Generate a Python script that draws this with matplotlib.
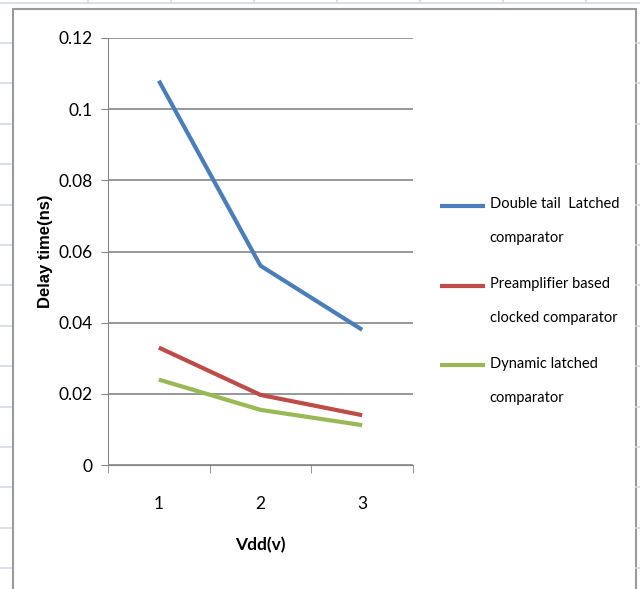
import numpy as np
import matplotlib.pyplot as plt
from matplotlib.patches import Rectangle
from matplotlib.lines import Line2D
from matplotlib.legend_handler import HandlerLine2D

# Delay time vs supply voltage for three comparators
vdd = [1, 2, 3]
double_tail = [0.108, 0.056, 0.038]
preamp = [0.033, 0.0197, 0.014]
dynamic = [0.024, 0.0155, 0.0112]
labels = ['Double tail  Latched\ncomparator',
          'Preamplifier based\nclocked comparator',
          'Dynamic latched\ncomparator']
colors = ['#4A7EBB', '#BE4B48', '#98B954']
yticks = [0, 0.02, 0.04, 0.06, 0.08, 0.1, 0.12]
ytick_labels = ['0', '0.02', '0.04', '0.06', '0.08', '0.1', '0.12']

plt.rcParams['font.family'] = ['Lato', 'DejaVu Sans']

W, H = 640, 589


class TopLine(HandlerLine2D):
    # excel puts the legend line next to the first text line
    def create_artists(self, legend, orig_handle, xdescent, ydescent,
                       width, height, fontsize, trans):
        arts = super().create_artists(legend, orig_handle, xdescent, ydescent,
                                      width, height, fontsize, trans)
        for a in arts:
            a.set_ydata(np.asarray(a.get_ydata()) + 11.3)
        return arts


fig = plt.figure(figsize=(6.4, 5.89), dpi=100)

# faint spreadsheet cell lines behind the chart
cell = '#d3dae6'
fig.lines.append(Line2D([0, 1], [1 - 3/H, 1 - 3/H], transform=fig.transFigure, color=cell, lw=1.2))
for k in range(8):
    x = (88 + 83*k) / W
    fig.lines.append(Line2D([x, x], [1 - 3/H, 1], transform=fig.transFigure, color=cell, lw=1.2))
for k in range(14):
    y = 1 - (43 + 40.4*k) / H
    fig.lines.append(Line2D([0, 11/W], [y, y], transform=fig.transFigure, color=cell, lw=1.2))
    fig.lines.append(Line2D([636/W, 1], [y, y], transform=fig.transFigure, color=cell, lw=1.2))

# chart border
fig.patches.append(Rectangle((13/W, -0.01), 623/W, 1 - 9/H + 0.01,
                             transform=fig.transFigure, fill=False,
                             edgecolor='#9a9a9a', linewidth=1.5))

ax = fig.add_axes([108/W, 124/H, 305/W, 427/H])
for ys, c, lab in zip([double_tail, preamp, dynamic], colors, labels):
    ax.plot(vdd, ys, color=c, linewidth=3, label=lab, solid_capstyle='butt')

ax.set_xlim(0.5, 3.5)
ax.set_ylim(0, 0.12)
ax.set_yticks(yticks)
ax.set_yticklabels(ytick_labels)
ax.set_xticks(vdd)
ax.set_xticks([0.5, 1.5, 2.5, 3.5], minor=True)
ax.tick_params(axis='x', which='major', length=0, pad=22, labelsize=12.5)
ax.tick_params(axis='x', which='minor', length=6, color='#868686', direction='out')
ax.tick_params(axis='y', length=5, color='#868686', labelsize=12.5, pad=6)
ax.yaxis.grid(True, color='#868686', linewidth=1.2)
ax.set_axisbelow(True)
for s in ['top', 'right']:
    ax.spines[s].set_visible(False)
for s in ['left', 'bottom']:
    ax.spines[s].set_color('#868686')

ax.set_ylabel('Delay time(ns)', fontweight='bold', fontsize=12,
              family=['Liberation Sans', 'DejaVu Sans'], labelpad=4)
ax.set_xlabel('Vdd(v)', fontweight='bold', fontsize=12.5, labelpad=18)

leg = fig.legend(loc='upper left', bbox_to_anchor=(427/W, 1 - 184/H),
                 frameon=False, fontsize=10.5, handlelength=3.1,
                 handletextpad=0.3, labelspacing=2.2,
                 handler_map={Line2D: TopLine()})
for t in leg.get_texts():
    t.set_linespacing(2.8)

fig.savefig('out.png', dpi=100)
